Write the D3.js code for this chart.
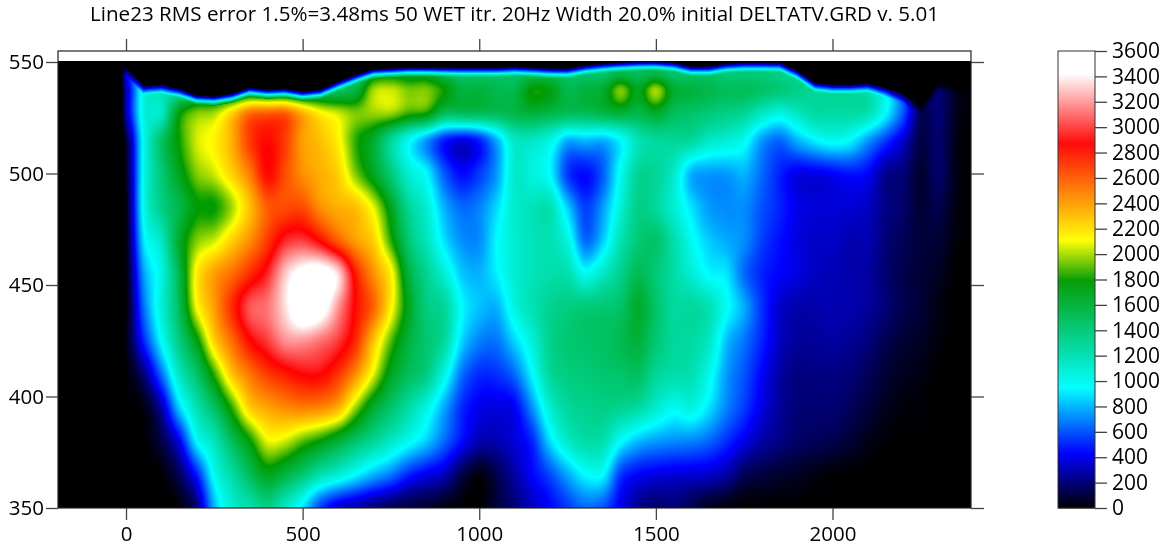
<!DOCTYPE html>
<html><head><meta charset="utf-8">
<script src="https://cdn.jsdelivr.net/npm/d3@7"></script>
<style>
html,body{margin:0;padding:0;background:#fff;overflow:hidden}
#wrap{position:relative;width:1166px;height:548px}
canvas{position:absolute;left:0;top:0}
svg{position:absolute;left:0;top:0}
text{font-family:"Open Sans",sans-serif;fill:#000}
</style></head><body><div id="wrap"><canvas id="c" width="1166" height="548"></canvas><svg id="s" width="1166" height="548"></svg></div>
<script>
const titleText = "Line23 RMS error 1.5%=3.48ms 50 WET itr. 20Hz Width 20.0% initial DELTATV.GRD v. 5.01";
const xTicks = [0,500,1000,1500,2000];
const yTicks = [350,400,450,500,550];
const barTicks = [0,200,400,600,800,1000,1200,1400,1600,1800,2000,2200,2400,2600,2800,3000,3200,3400,3600];
const colorStops = [0,433,954,1796,2112,2875,3425,3600];
const colorValues = ["#000000","#0000ff","#00ffff","#009b00","#ffff00","#ff0000","#ffffff","#ffffff"];
// offsets along the line, metres: 0, 50, ... 2350
const xCols = d3.range(48).map(k => k*50);
const surface = [548.2,539.7,540.1,538.3,535.2,534.8,536.1,538.8,537.9,538.3,537,537.9,541.5,544.6,546.9,547.3,547.8,547.8,547.8,547.8,547.8,547.8,548.2,547.8,547.3,547.3,548.7,549.6,550,550.5,550.5,550,548.2,548.2,549.6,550,550,550,546.4,541,540.1,540.1,540.6,538.8,536.1,530.7,541,539.7];
const row545 = [400,1000,1300,1300,1300,1300,1300,1300,1300,1300,1300,1300,1300,1400,1700,1750,1700,1700,1550,1450,1450,1450,1450,1500,1500,1450,1450,1450,1550,1500,1550,1450,1450,1450,1400,1400,1400,1350,1300,1250,1250,1250,1250,1000,600,100,180,40];
const row537 = [300,1050,1200,1300,1500,1500,1500,1600,1550,1550,1500,1500,1500,1600,2000,2050,1950,1950,1800,1600,1600,1550,1550,1800,1750,1550,1600,1650,1950,1700,2000,1650,1600,1550,1500,1500,1450,1400,1350,1300,1300,1300,1250,1000,600,150,200,50];
const row527 = [300,1050,1150,1750,1950,2000,2250,2550,2600,2600,2350,2150,2050,1950,1980,1980,1850,1800,1500,1500,1500,1500,1550,1600,1550,1500,1500,1550,1600,1550,1650,1500,1450,1400,1350,1300,1150,1050,1150,1250,1250,1250,1200,950,600,150,200,50];
const row515 = [100,1000,1450,1800,2050,2150,2350,2700,2850,2700,2400,2300,2150,1850,1650,1300,1000,750,500,400,500,800,1150,1150,1050,800,820,800,950,1200,1280,1300,1280,1150,1100,1000,750,650,800,930,1000,950,750,550,350,120,180,40];
const row500 = [60,1000,1400,1700,1950,2050,2250,2500,2850,2650,2450,2350,2250,1950,1700,1400,1100,950,620,450,550,750,1120,1060,950,550,450,620,1000,1300,1300,1130,800,750,750,800,650,500,400,400,430,470,430,250,200,80,180,40];
const row485 = [40,1000,1350,1550,1780,1800,2000,2300,2600,2650,2650,2450,2350,2300,2080,1700,1300,1100,800,650,700,880,1120,1180,1200,850,560,750,1080,1350,1280,1100,900,750,720,720,600,500,400,370,370,360,330,230,180,90,130,30];
const row470 = [30,900,1150,1650,1950,2050,2250,2450,2700,2950,3000,2850,2600,2400,2250,1850,1420,1180,900,730,720,950,1100,1180,1200,1050,650,850,1200,1400,1450,1230,1000,850,780,720,560,460,380,340,340,300,300,200,150,100,90,20];
const row455 = [20,750,1050,1550,2150,2400,2550,2750,2950,3300,3500,3550,3350,2800,2450,2150,1600,1320,1100,850,800,930,1100,1180,1230,1220,1000,1150,1330,1520,1400,1250,1100,950,900,650,500,430,380,330,310,290,270,190,130,90,60,0];
const row440 = [10,650,1080,1500,2100,2400,2750,3050,3130,3350,3650,3550,3200,2850,2580,2150,1700,1380,1300,960,830,800,1050,1200,1320,1370,1400,1420,1460,1650,1450,1280,1280,1200,980,780,530,350,290,290,300,290,260,200,130,90,30,0];
const row425 = [30,500,960,1370,1750,2250,2550,2850,3000,3180,3200,3120,3000,2750,2300,1900,1600,1430,1280,880,700,680,870,1080,1330,1420,1450,1470,1530,1600,1420,1290,1260,1150,830,670,500,330,260,260,270,250,210,140,90,60,20,0];
const row410 = [10,200,650,1150,1450,1850,2280,2520,2700,2800,2880,2880,2720,2450,2080,1700,1500,1370,1050,670,520,530,650,950,1280,1370,1400,1430,1450,1480,1300,1240,1210,1020,750,600,430,280,220,220,220,200,150,90,50,30,0,0];
const row395 = [0,30,280,850,1200,1480,1850,2250,2380,2460,2500,2470,2350,1980,1650,1450,1250,1050,780,520,400,380,420,730,1100,1280,1330,1350,1320,1260,1120,1000,1050,900,700,550,380,260,200,190,190,150,100,50,20,10,0,0];
const row380 = [0,0,120,400,950,1180,1500,1780,2080,2050,1900,1780,1620,1450,1300,1150,1000,850,650,450,300,300,370,510,880,1130,1240,1220,970,820,750,720,700,640,520,390,280,220,170,150,130,90,40,10,0,0,0,0];
const row365 = [0,0,10,150,480,1000,1250,1500,1700,1580,1420,1220,1100,950,800,680,500,400,320,130,30,130,280,430,580,780,950,950,550,430,390,370,360,340,280,150,110,80,60,30,10,0,0,0,0,0,0,0];
const row350 = [0,0,0,20,200,800,1100,1220,1350,1150,900,550,350,280,200,140,100,80,30,5,0,100,200,320,430,550,650,600,400,240,180,200,130,50,20,0,0,0,0,0,0,0,0,0,0,0,0,0];
const rowElev = [545,537,527,515,500,485,470,455,440,425,410,395,380,365,350];
const rows = [row545,row537,row527,row515,row500,row485,row470,row455,row440,row425,row410,row395,row380,row365,row350];

const X = d3.scaleLinear().domain([0,2000]).range([126,832.5]);
const Y = d3.scaleLinear().domain([350,550]).range([508,62]);
const C = d3.scaleLinear().domain(colorStops).range(colorValues).interpolate(d3.interpolateRgb).clamp(true);
const B = d3.scaleLinear().domain([0,3600]).range([508,51]);
const plot = {l:58,r:971,t:51,b:508,black:61};

// Field lookup: padded with zero just outside the surveyed columns, smoothed with a Catmull-Rom kernel
const xs = [-15,...xCols,2400];
const ys = rowElev.slice().reverse();
const grid = rows.slice().reverse().map(r => [0,...r,0]);
const surf = [surface[0],...surface,surface[surface.length-1]];
const taperDepth = 4.5;
function locate(arr,v){
  const i = Math.max(0,Math.min(arr.length-2,d3.bisectRight(arr,v)-1));
  return [i,Math.max(0,Math.min(1,(v-arr[i])/(arr[i+1]-arr[i])))];
}
function cr(a,b,c,d,t){
  return 0.5*((2*b)+(-a+c)*t+(2*a-5*b+4*c-d)*t*t+(-a+3*b-3*c+d)*t*t*t);
}
const at=(n,i)=>Math.max(0,Math.min(n-1,i));
function rowVal(r,i,t){
  const n=r.length;
  return cr(r[at(n,i-1)],r[i],r[i+1],r[at(n,i+2)],t);
}
function field(x,e){
  if(x<=xs[0]||x>=xs[xs.length-1]) return 0;
  const [i,tx]=locate(xs,x), [j,ty]=locate(ys,e);
  const n=grid.length;
  const v=cr(rowVal(grid[at(n,j-1)],i,tx),rowVal(grid[j],i,tx),rowVal(grid[j+1],i,tx),rowVal(grid[at(n,j+2)],i,tx),ty);
  const top=surf[i]*(1-tx)+surf[i+1]*tx;
  return v*Math.max(0,Math.min(1,(top-e)/taperDepth));
}
// Heat map
const ctx=document.getElementById('c').getContext('2d');
const img=ctx.createImageData(plot.r-plot.l,plot.b-plot.black);
const lut=d3.range(0,3601).map(v=>d3.rgb(C(v)));
let p=0;
for(let py=plot.black;py<plot.b;py++){
  const e=Y.invert(py+0.5);
  for(let px=plot.l;px<plot.r;px++){
    const c=lut[Math.round(Math.max(0,Math.min(3600,field(X.invert(px+0.5),e))))];
    img.data[p++]=c.r;img.data[p++]=c.g;img.data[p++]=c.b;img.data[p++]=255;
  }
}
ctx.putImageData(img,plot.l,plot.black);

const svg=d3.select('#s');
svg.append('text').attr('x',514.5).attr('y',21).attr('text-anchor','middle').attr('font-size',20)
  .attr('textLength',849).attr('lengthAdjust','spacingAndGlyphs').text(titleText);
svg.append('rect').attr('x',plot.l).attr('y',plot.t).attr('width',plot.r-plot.l).attr('height',plot.b-plot.t)
  .attr('fill','none').attr('stroke','#222').attr('stroke-width',1.2);
function styleAxis(g,labels,size){
  g.select('.domain').remove();
  g.selectAll('.tick line').attr('stroke','#444').attr('stroke-width',1.3);
  g.selectAll('.tick text').attr('font-size',size).attr('font-family','"Open Sans",sans-serif').attr('fill','#000');
  if(!labels) g.selectAll('.tick text').remove();
}
svg.append('g').attr('transform',`translate(0,${plot.b})`).call(d3.axisBottom(X).tickValues(xTicks).tickSize(12).tickPadding(6).tickFormat(d3.format('d'))).call(g=>styleAxis(g,true,20.5));
svg.append('g').attr('transform',`translate(0,${plot.t})`).call(d3.axisTop(X).tickValues(xTicks).tickSize(12)).call(g=>styleAxis(g,false,20));
svg.append('g').attr('transform',`translate(${plot.l},0)`).call(d3.axisLeft(Y).tickValues(yTicks).tickSize(12).tickPadding(2).tickFormat(d3.format('d'))).call(g=>styleAxis(g,true,20.5));
svg.append('g').attr('transform',`translate(${plot.r},0)`).call(d3.axisRight(Y).tickValues(yTicks).tickSize(13)).call(g=>styleAxis(g,false,20));

// Colour bar
const bar={l:1058,r:1095};
const barLevels=d3.range(0,3600,7.875);
svg.append('g').selectAll('rect').data(barLevels).join('rect')
  .attr('x',bar.l).attr('width',bar.r-bar.l).attr('y',d=>B(d+7.875)).attr('height',d=>B(d)-B(d+7.875)+0.5).attr('fill',d=>C(d+4));
svg.append('rect').attr('x',bar.l).attr('y',51).attr('width',bar.r-bar.l).attr('height',457).attr('fill','none').attr('stroke','#333').attr('stroke-width',1);
svg.append('g').attr('transform',`translate(${bar.r},0)`).call(d3.axisRight(B).tickValues(barTicks).tickSize(12).tickPadding(5).tickFormat(d3.format('d'))).call(g=>styleAxis(g,true,21));
</script></body></html>
